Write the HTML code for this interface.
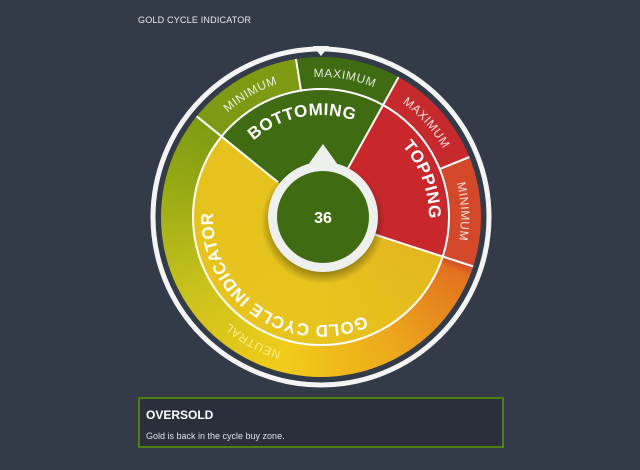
<!DOCTYPE html>
<html><head><style>
html,body{margin:0;padding:0;}
body{width:640px;height:470px;background:#343b48;position:relative;overflow:hidden;font-family:"Liberation Sans",sans-serif;}
.title{position:absolute;left:138px;top:15px;color:#e8eaee;font-size:9px;letter-spacing:0.2px;}
.disk{position:absolute;border-radius:50%;}
#outer{left:161px;top:57px;width:320px;height:320px;background:conic-gradient(#3f6b12 0deg 29deg,#c62a2c 29deg 68deg,#d4482a 68deg 108deg,#e2721f 112deg,#eca81c 150deg,#f2cc1a 195deg,#c9c21c 240deg,#94a814 285deg,#7e9a14 310deg 351deg,#3f6b12 351deg);}
#inner{left:193px;top:89px;width:256px;height:256px;background:conic-gradient(#3f6b12 0deg 29deg,#c8282c 29deg 108deg,#e3b81f 108deg,#e8c41e 180deg,#e6c21e 309deg,#3f6b12 309deg 360deg);}
.box{position:absolute;left:138px;top:397px;width:362px;height:47px;border:2px solid #4f7f14;background:#2b2f3b;color:#fff;}
.box h3{margin:0;position:absolute;left:6px;top:9px;font-size:12px;font-weight:bold;}
.box p{margin:0;position:absolute;left:6px;top:32px;font-size:9px;color:#dfe2e6;}
svg{position:absolute;left:0;top:0;}
</style></head><body>
<div class="title">GOLD CYCLE INDICATOR</div>
<div class="disk" id="outer"></div>
<div class="disk" id="inner"></div>
<svg width="640" height="470" viewBox="0 0 640 470">
<defs>
<path id="c102" d="M321,319 A102,102 0 1 1 321,115 A102,102 0 1 1 321,319"/>
<path id="c108" d="M321,325 A108,108 0 1 1 321,109 A108,108 0 1 1 321,325"/>
<path id="t108" d="M321,109 A108,108 0 1 1 321,325 A108,108 0 1 1 321,109"/>
<path id="c140" d="M321,357 A140,140 0 1 1 321,77 A140,140 0 1 1 321,357"/>
<radialGradient id="sh"><stop offset="0.8" stop-color="#000" stop-opacity="0.35"/><stop offset="1" stop-color="#000" stop-opacity="0"/></radialGradient>
</defs>
<circle cx="321" cy="217" r="168" fill="none" stroke="#f4f4f4" stroke-width="5"/>
<circle cx="321" cy="217" r="128" fill="none" stroke="#fff" stroke-width="2"/>
<g stroke="#fff" stroke-width="2">
<line x1="321" y1="162" x2="321" y2="57" transform="rotate(-51 321 217)"/>
<line x1="321" y1="162" x2="321" y2="57" transform="rotate(29 321 217)"/>
<line x1="321" y1="162" x2="321" y2="57" transform="rotate(108 321 217)"/>
<line x1="321" y1="89" x2="321" y2="57" transform="rotate(-9 321 217)"/>
<line x1="321" y1="89" x2="321" y2="57" transform="rotate(68 321 217)"/>
</g>
<polygon points="313,46 329,46 321,56" fill="#f4f4f4"/>
<g fill="#fff" font-family="Liberation Sans,sans-serif" font-weight="bold" font-size="17" text-anchor="middle" letter-spacing="0.5">
<text><textPath href="#c102" startOffset="46.9%">BOTTOMING</textPath></text>
<text><textPath href="#c108" startOffset="69.4%">TOPPING</textPath></text>
<text><textPath href="#t108" startOffset="59.5%">GOLD CYCLE INDICATOR</textPath></text>
</g>
<g fill="#fff" fill-opacity="0.85" font-family="Liberation Sans,sans-serif" font-size="12" text-anchor="middle" letter-spacing="0.6">
<text><textPath href="#c140" startOffset="41.7%">MINIMUM</textPath></text>
<text><textPath href="#c140" startOffset="52.7%">MAXIMUM</textPath></text>
<text><textPath href="#c140" startOffset="63.4%">MAXIMUM</textPath></text>
<text><textPath href="#c140" startOffset="74.4%">MINIMUM</textPath></text>
<text fill="#fff3a0"><textPath href="#c140" startOffset="8%">NEUTRAL</textPath></text>
</g>
<circle cx="323" cy="222" r="62" fill="url(#sh)"/>
<polygon points="303,172 343,172 323,144" fill="#eef0ee"/>
<circle cx="323" cy="217" r="55" fill="#eef0ee"/>
<circle cx="323" cy="217" r="46" fill="#3f6b12"/>
<text x="323" y="223" fill="#fff" font-family="Liberation Sans,sans-serif" font-weight="bold" font-size="16" text-anchor="middle">36</text>
</svg>
<div class="box"><h3>OVERSOLD</h3><p>Gold is back in the cycle buy zone.</p></div>
</body></html>
